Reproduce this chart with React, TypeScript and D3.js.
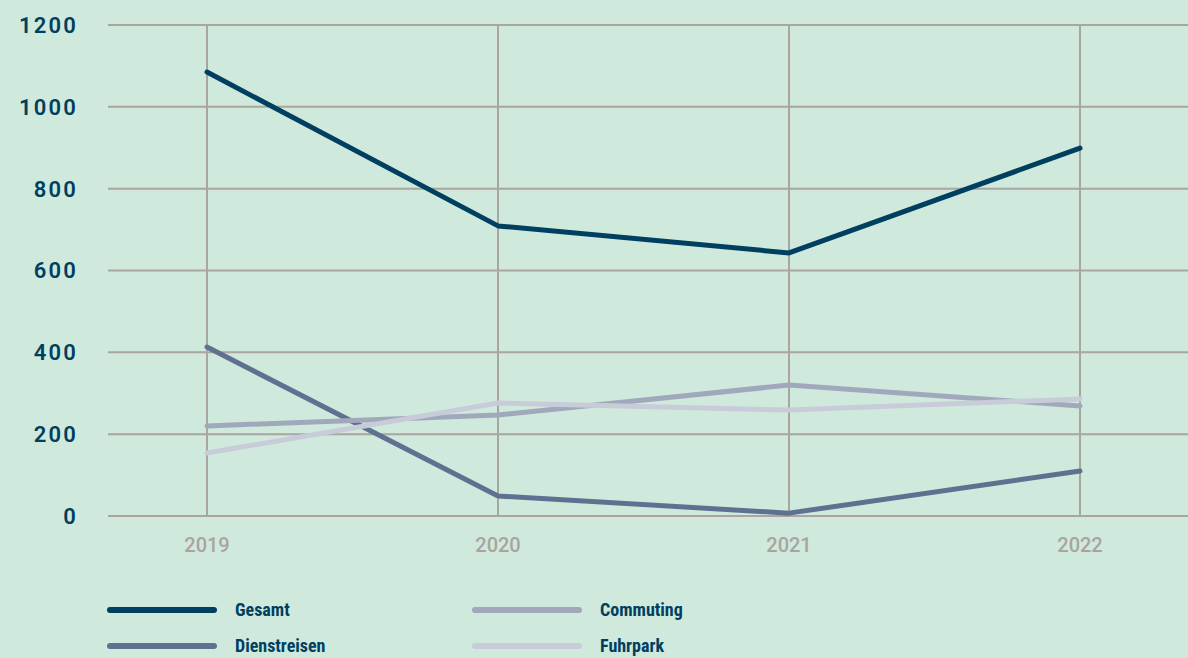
import React from "react";
import * as d3 from "d3";

const years = [2019, 2020, 2021, 2022];
const gesamt = [1085, 709, 643, 899];
const dienstreisen = [413, 49, 7, 110];
const commuting = [220, 247, 320, 269];
const fuhrpark = [154, 276, 259, 286];
const yTicks = [0, 200, 400, 600, 800, 1000, 1200];

const seriesNames = ["Gesamt", "Dienstreisen", "Commuting", "Fuhrpark"];
const seriesColors = ["#003f5f", "#5f7191", "#a0a8bc", "#c8ccd9"];

const W = 1188;
const H = 658;

export default function App() {
  const x = d3.scaleLinear().domain([2019, 2022]).range([207, 1080]);
  const y = d3.scaleLinear().domain([0, 1200]).range([516, 25]);
  const line = d3
    .line<number>()
    .x((_, i) => x(years[i]))
    .y((d) => y(d));

  const series = [
    { name: seriesNames[0], values: gesamt, color: seriesColors[0] },
    { name: seriesNames[1], values: dienstreisen, color: seriesColors[1] },
    { name: seriesNames[2], values: commuting, color: seriesColors[2] },
    { name: seriesNames[3], values: fuhrpark, color: seriesColors[3] },
  ];
  const drawOrder = [1, 2, 3, 0];
  const legendPos = [
    { x: 108, y: 610 },
    { x: 108, y: 646 },
    { x: 473, y: 610 },
    { x: 473, y: 646 },
  ];

  return (
    <svg
      width={W}
      height={H}
      style={{ position: "absolute", left: 0, top: 0, background: "#cfe9dc" }}
    >
      <rect x={0} y={0} width={W} height={H} fill="#cfe9dc" />
      {yTicks.map((t) => (
        <g key={t}>
          <line x1={108} x2={W} y1={y(t)} y2={y(t)} stroke="#a9a5a0" strokeWidth={2} />
          <text
            x={78}
            y={y(t)}
            dy="0.36em"
            textAnchor="end"
            fill="#003f5f"
            fontFamily="Roboto, 'DejaVu Sans', sans-serif"
            fontWeight={600}
            fontSize={22}
            letterSpacing={2.2}
          >
            {t}
          </text>
        </g>
      ))}
      {years.map((yr) => (
        <g key={yr}>
          <line x1={x(yr)} x2={x(yr)} y1={y(1200)} y2={y(0)} stroke="#a9a5a0" strokeWidth={2} />
          <text
            x={x(yr)}
            y={552}
            textAnchor="middle"
            fill="#aaa4a0"
            fontFamily="Roboto, 'DejaVu Sans', sans-serif"
            fontWeight={500}
            fontSize={20}
          >
            {yr}
          </text>
        </g>
      ))}
      {drawOrder.map((i) => (
        <path
          key={series[i].name}
          d={line(series[i].values) || ""}
          fill="none"
          stroke={series[i].color}
          strokeWidth={5}
          strokeLinecap="round"
          strokeLinejoin="round"
        />
      ))}
      {series.map((s, i) => (
        <g key={s.name}>
          <line
            x1={legendPos[i].x + 2}
            x2={legendPos[i].x + 106}
            y1={legendPos[i].y}
            y2={legendPos[i].y}
            stroke={s.color}
            strokeWidth={6}
            strokeLinecap="round"
          />
          <text
            x={legendPos[i].x + 127}
            y={legendPos[i].y}
            dy="0.35em"
            fill="#003f5f"
            fontFamily="'Liberation Sans Narrow', 'Roboto Condensed', Roboto, sans-serif"
            fontWeight={700}
            fontSize={18}
          >
            {s.name}
          </text>
        </g>
      ))}
    </svg>
  );
}
